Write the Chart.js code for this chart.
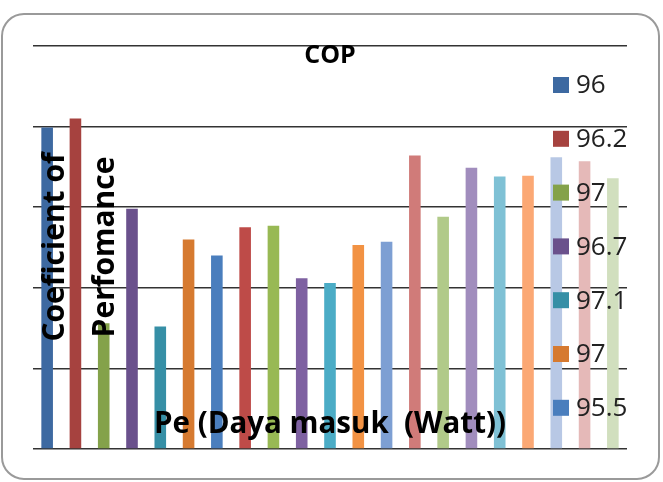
<!DOCTYPE html>
<html>
<head>
<meta charset="utf-8">
<script src="https://cdn.jsdelivr.net/npm/chart.js"></script>
<style>
  body { margin: 0; background: #fff; }
  #wrap { width: 663px; height: 482px; }
</style>
</head>
<body>
<div id="wrap"><canvas id="cop-chart" width="663" height="482"></canvas></div>
<script>
// series names visible in the (clipped) legend
const seriesNames = ['96', '96.2', '97', '96.7', '97.1', '97', '95.5'];
// COP value of each bar
const copValues = [3.99, 4.10, 1.56, 2.98, 1.52, 2.60, 2.40, 2.75, 2.77, 2.12, 2.06,
                   2.53, 2.57, 3.64, 2.88, 3.49, 3.38, 3.39, 3.62, 3.57, 3.36];
const yTicks = [0, 1, 2, 3, 4, 5];
const chartTitle = 'COP';
const yTitle = ['Coeficient of', 'Perfomance'];
const xTitle = 'Pe (Daya masuk  (Watt))';

const barColors = [
  '#3d69a1', '#a6423f', '#84a24a', '#6a518c', '#368fa6', '#d67a30',
  '#4a7ebd', '#be4b48', '#98b954', '#7e61a1', '#4bacc6', '#f29243',
  '#7d9fd3', '#d07b79', '#b1ca89', '#a18dbd', '#7fc1d5', '#fba874',
  '#b8c8e5', '#e5b9b8', '#d1dfbe'
];

document.addEventListener('DOMContentLoaded', function() {
  const canvas = document.getElementById('cop-chart');

  const datasets = copValues.map(function(v, i) {
    return {
      label: seriesNames[i] || '',
      data: [v],
      backgroundColor: barColors[i],
      borderWidth: 0,
      categoryPercentage: 1,
      barPercentage: 0.41
    };
  });

  const decorPlugin = {
    id: 'decor',
    beforeDraw(chart) {
      const ctx = chart.ctx;
      ctx.save();
      ctx.fillStyle = '#fff';
      ctx.fillRect(0, 0, chart.width, chart.height);
      ctx.strokeStyle = '#9a9a9a';
      ctx.lineWidth = 2;
      ctx.beginPath();
      ctx.roundRect(2, 14, 657, 465, 22);
      ctx.stroke();
      ctx.restore();
    },
    afterDatasetsDraw(chart) {
      const ctx = chart.ctx;
      ctx.save();
      ctx.fillStyle = '#000';
      ctx.textAlign = 'center';
      ctx.textBaseline = 'alphabetic';

      // title, sits on the top grid line
      ctx.font = 'bold 25px "Open Sans"';
      ctx.fillText(chartTitle, 330, 63);

      // x axis title, drawn over the bars
      ctx.font = 'bold 29.5px "Open Sans"';
      ctx.fillText(xTitle, 330, 433);

      // y axis title, two rotated lines
      ctx.font = 'bold 30px "Open Sans"';
      const baselines = [64, 114];
      yTitle.forEach(function(line, i) {
        ctx.save();
        ctx.translate(baselines[i], 247);
        ctx.rotate(-Math.PI / 2);
        ctx.fillText(line, 0, 0);
        ctx.restore();
      });

      // legend, overlapping the plot and cut off by the frame
      ctx.textAlign = 'left';
      ctx.textBaseline = 'middle';
      ctx.font = '26px "Open Sans"';
      chart.data.datasets.forEach(function(ds, i) {
        if (!ds.label) return;
        const y = 85 + i * 53.8;
        ctx.fillStyle = ds.backgroundColor;
        ctx.fillRect(553, y - 8, 16, 16);
        ctx.fillStyle = '#222';
        ctx.fillText(ds.label, 576, y + 1);
      });
      ctx.restore();
    }
  };

  new Chart(canvas.getContext('2d'), {
    type: 'bar',
    data: { labels: [''], datasets: datasets },
    options: {
      responsive: false,
      animation: false,
      layout: { padding: { left: 33, right: 36, top: 46, bottom: 33 } },
      plugins: {
        legend: { display: false },
        title: { display: false },
        tooltip: { enabled: false }
      },
      scales: {
        x: { display: false },
        y: {
          min: yTicks[0],
          max: yTicks[yTicks.length - 1],
          afterBuildTicks: function(scale) {
            scale.ticks = yTicks.map(function(v) { return { value: v }; });
          },
          ticks: { display: false },
          border: { display: false },
          grid: { color: '#333', lineWidth: 1.6, drawTicks: false }
        }
      }
    },
    plugins: [decorPlugin]
  });
});
</script>
</body>
</html>
